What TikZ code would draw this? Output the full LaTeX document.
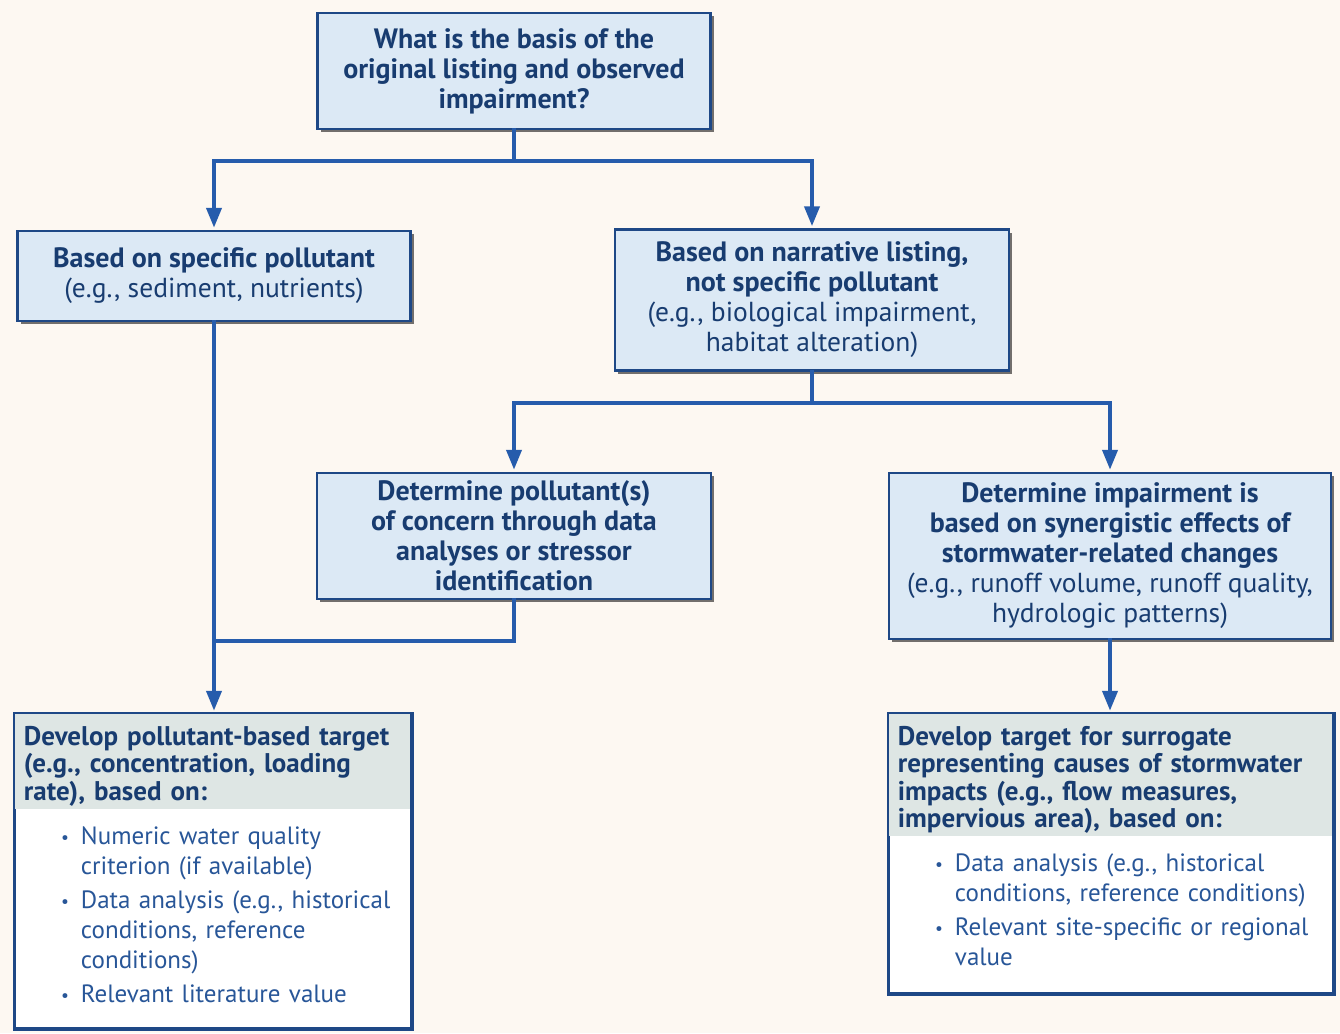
\documentclass[tikz,border=0pt]{standalone}
\usepackage{fontspec}
\setmainfont{PT Sans}
\usepackage{enumitem}
\usetikzlibrary{arrows.meta,shadows}

\tikzset{
	flowbox/.style={draw=boxline, line width=2.5pt, fill=boxfill, text=txtdark, align=center,
		font=\fontsize{27.5}{30}\selectfont, inner sep=0pt,
		drop shadow={shadow xshift=3pt, shadow yshift=-3pt, opacity=0.55, fill=black}},
	outbox/.style={draw=boxline, line width=2.5pt, fill=white, inner sep=0pt,
		drop shadow={shadow xshift=3pt, shadow yshift=-3pt, opacity=0.55, fill=black}},
	headbox/.style={fill=hdrfill, text=txtdark, align=left, inner xsep=10pt, inner ysep=0pt,
		font=\fontsize{27}{27.5}\selectfont\bfseries, anchor=north west},
	listbox/.style={text=txtlist, align=left, inner xsep=10pt, inner ysep=0pt,
		font=\fontsize{25}{30}\selectfont, anchor=north west},
	link/.style={draw=linkcol, line width=4pt, -{Triangle[length=20pt,width=15pt]}, shorten >=2pt},
	linkline/.style={draw=linkcol, line width=4pt}
}
\newcommand{\bx}{\fontsize{28}{30}\selectfont\bfseries}
\setlist[itemize]{label=\raisebox{1pt}{\scalebox{0.7}{\textbullet}}, leftmargin=57pt, labelsep=12pt, itemsep=4pt, topsep=0pt, parsep=0pt, partopsep=0pt}

\begin{document}
\begin{tikzpicture}[x=1pt,y=-1pt,line cap=rect]
	\definecolor{bgcol}{RGB}{253, 248, 242}
	\definecolor{boxfill}{RGB}{220, 233, 245}
	\definecolor{boxline}{RGB}{30, 72, 134}
	\definecolor{linkcol}{RGB}{38, 92, 172}
	\definecolor{txtdark}{RGB}{24, 60, 112}
	\definecolor{txtlist}{RGB}{40, 86, 152}
	\definecolor{hdrfill}{RGB}{222, 230, 228}
	\fill[bgcol] (0,0) rectangle (1340,1033);
	\useasboundingbox (0,0) rectangle (1340,1033);

	\node[flowbox, minimum width=393, minimum height=116] (basis) at (514,71) {\bx What is the basis of the\\\bx original listing and observed\\\bx impairment?};
	\node[flowbox, minimum width=393, minimum height=90] (specific) at (214,276) {\bx Based on specific pollutant\\(e.g., sediment, nutrients)};
	\node[flowbox, minimum width=394, minimum height=141] (narrative) at (812,300) {\bx Based on narrative listing,\\\bx not specific pollutant\\(e.g., biological impairment,\\habitat alteration)};
	\node[flowbox, minimum width=394, minimum height=126] (concern) at (514,536) {\bx Determine pollutant(s)\\\bx of concern through data\\\bx analyses or stressor\\\bx identification};
	\node[flowbox, minimum width=442, minimum height=166] (synergy) at (1110,556) {\bx Determine impairment is\\\bx based on synergistic effects of\\\bx stormwater-related changes\\(e.g., runoff volume, runoff quality,\\hydrologic patterns)};

	\node[outbox, minimum width=396, minimum height=314] (devpoll) at (213,871) {};
	\node[headbox, text width=376, minimum height=96] (devpollhead) at (devpoll.north west) {\rule{0pt}{30pt}Develop pollutant-based target\\(e.g., concentration, loading\\rate), based on:};
	\node[listbox, text width=376] (devpolllist) at ([yshift=-5pt]devpollhead.south west) {%
		\begin{itemize}
			\item Numeric water quality\newline criterion (if available)
			\item Data analysis (e.g., historical\newline conditions, reference\newline conditions)
			\item Relevant literature value
		\end{itemize}};
	\draw[boxline, line width=2.5pt] (devpoll.north west) rectangle (devpoll.south east);

	\node[outbox, minimum width=444, minimum height=279] (devsurr) at (1111,853.5) {};
	\node[headbox, text width=424, minimum height=123] (devsurrhead) at (devsurr.north west) {\rule{0pt}{30pt}Develop target for surrogate\\representing causes of stormwater\\impacts (e.g., flow measures,\\impervious area), based on:};
	\node[listbox, text width=424] (devsurrlist) at ([yshift=-5pt]devsurrhead.south west) {%
		\begin{itemize}
			\item Data analysis (e.g., historical\newline conditions, reference conditions)
			\item Relevant site-specific or regional\newline value
		\end{itemize}};
	\draw[boxline, line width=2.5pt] (devsurr.north west) rectangle (devsurr.south east);

	\coordinate (joinpoll) at (214,641);
	\draw[link] (basis.south) -- ++(0,31) -| (specific.north);
	\draw[link] (basis.south) -- ++(0,31) -| (narrative.north);
	\draw[link] (narrative.south) -- ++(0,31) -| (concern.north);
	\draw[link] (narrative.south) -- ++(0,31) -| (synergy.north);
	\draw[link] (specific.south) -- (specific.south |- devpoll.north);
	\draw[linkline] (concern.south) |- (joinpoll);
	\draw[link] (synergy.south) -- (synergy.south |- devsurr.north);
\end{tikzpicture}
\end{document}
